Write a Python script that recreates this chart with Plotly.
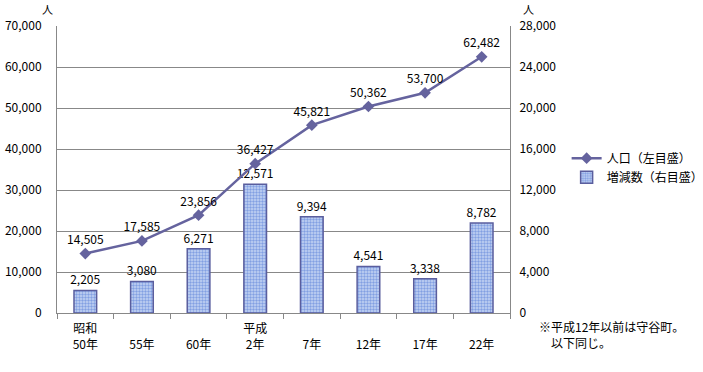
import plotly.graph_objects as go

categories = ["昭和<br>50年", "<br>55年", "<br>60年", "平成<br>2年", "<br>7年", "<br>12年", "<br>17年", "<br>22年"]
population = [14505, 17585, 23856, 36427, 45821, 50362, 53700, 62482]
change = [2205, 3080, 6271, 12571, 9394, 4541, 3338, 8782]
left_ticks = [0, 10000, 20000, 30000, 40000, 50000, 60000, 70000]
right_ticks = [0, 4000, 8000, 12000, 16000, 20000, 24000, 28000]

FONT = "Noto Sans CJK JP"
fig = go.Figure()

fig.add_trace(go.Bar(
    x=categories, y=change, name="増減数（右目盛）", yaxis="y",
    width=0.4,
    marker=dict(color="#a9bfec", line=dict(color="#5a5e9e", width=1.5),
                pattern=dict(shape=".", fgcolor="#3d6bd0", bgcolor="#c6d5f4", size=3, solidity=0.5)),
    texttemplate="%{y:,}", textposition="outside", cliponaxis=False,
    constraintext="none",
    textfont=dict(size=12, color="black", family=FONT),
))
fig.add_trace(go.Scatter(
    x=categories, y=population, name="人口（左目盛）", yaxis="y2",
    mode="lines+markers+text",
    line=dict(color="#65639e", width=2.5),
    marker=dict(symbol="diamond", size=9, color="#65639e"),
    text=[f"{v:,}" for v in population], textposition="top center",
    textfont=dict(size=12, color="black", family=FONT), cliponaxis=False,
))

fig.update_layout(
    width=703, height=372,
    margin=dict(l=57, r=193, t=26, b=59, autoexpand=False),
    paper_bgcolor="white", plot_bgcolor="white",
    font=dict(family=FONT, size=12, color="black"),
    bargap=0.6,
    xaxis=dict(type="category", showline=True, linecolor="#888888", linewidth=1,
               ticks="outside", tickson="boundaries", ticklen=5, tickcolor="#888888",
               tickfont=dict(size=12), automargin=False, ticklabelstandoff=5),
    yaxis=dict(side="right", range=[0, 28000], tickvals=right_ticks,
               ticktext=[f"{v:,}" for v in right_ticks],
               showgrid=True, gridcolor="#888888", gridwidth=1,
               showline=True, linecolor="#888888", zeroline=False,
               ticks="", tickfont=dict(size=12), automargin=False, ticklabelstandoff=6),
    yaxis2=dict(side="left", overlaying="y", range=[0, 70000], tickvals=left_ticks,
                ticktext=[f"{v:,}" for v in left_ticks],
                showgrid=False, showline=True, linecolor="#888888", zeroline=False,
                ticks="", tickfont=dict(size=12), automargin=False, ticklabelstandoff=12),
    legend=dict(x=1.125, y=0.59, xanchor="left", yanchor="top",
                font=dict(size=12), traceorder="reversed", bgcolor="rgba(0,0,0,0)",
                tracegroupgap=2, itemwidth=30),
    showlegend=True,
)

fig.add_annotation(text="人", xref="paper", yref="paper", x=-0.02, y=1.0, yshift=7,
                   showarrow=False, font=dict(size=11), xanchor="center", yanchor="bottom")
fig.add_annotation(text="人", xref="paper", yref="paper", x=1.04, y=1.0, yshift=7,
                   showarrow=False, font=dict(size=11), xanchor="center", yanchor="bottom")
fig.add_annotation(text="※平成12年以前は守谷町。<br>　以下同じ。", xref="paper", yref="paper",
                   x=1.06, y=-0.01, showarrow=False, font=dict(size=12),
                   xanchor="left", yanchor="top", align="left")

fig.write_html("out.html", config={"displayModeBar": False},
               post_script="document.body.style.margin='0';document.body.style.overflow='hidden';")
